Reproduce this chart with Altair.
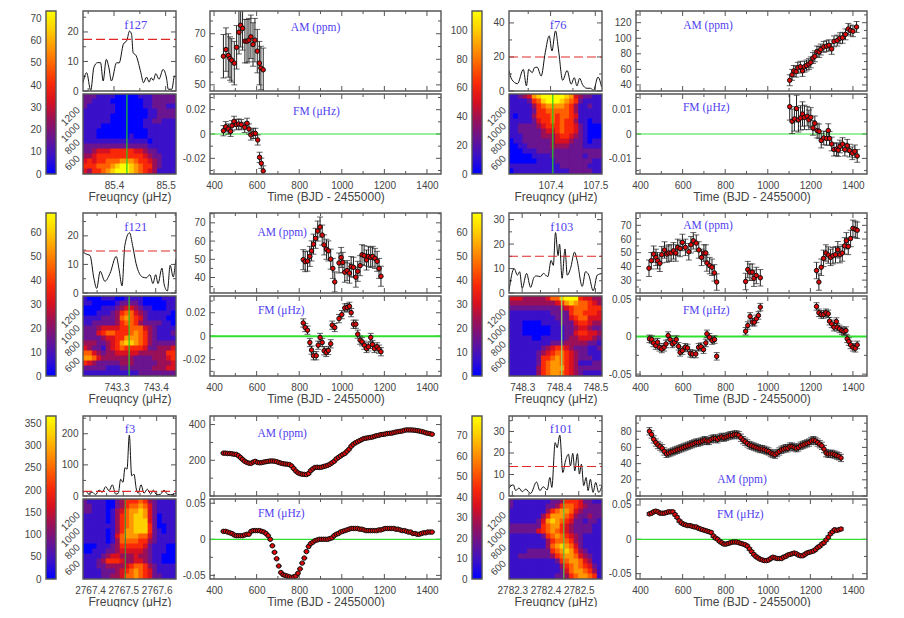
import altair as alt
import pandas as pd

# ---------------- time series ----------------
T10 = [444,454,464,474,484,494,504,514,524,534,544,554,564,574,584,594,604,614,624,634,
       644,654,664,674,684,694,704,714,724,734,744,754,764,774,784,794,804,814,824,834,
       844,854,864,874,884,894,904,914,924,934,944,954,964,974,984,994,1004,1014,1024,1034,
       1044,1054,1064,1074,1084,1094,1104,1114,1124,1134,1144,1154,1164,1174,1184,1194,1204,1214,1224,1234,
       1244,1254,1264,1274,1284,1294,1304,1314,1324,1334,1344,1354,1364,1374,1384,1394,1404,1414,1424]

f127_am_t = [444,456,467,475,483,495,506,517,525,534,545,555,564,573,583,592,603,613,620,631]
f127_am_v = [61.2,63.8,61.5,60.3,59.6,58.5,64.7,70.6,73.3,72.1,67.1,67.1,67.5,68.8,65.8,67.5,63.2,58.5,56.6,55.9]
f127_fm_t = [444,455,467,478,484,494,505,516,528,544,555,564,573,584,594,605,614,622,631]
f127_fm_v = [.0027,.006,.0041,.0022,.0068,.0104,.0077,.0082,.0077,.0055,.0088,.0041,-.0008,.0005,.0005,-.0049,-.0192,-.0241,-.0304]

f76_am_t = [1103,1114,1122,1133,1141,1153,1163,1172,1182,1193,1202,1212,1221,1231,1241,1249,1263,1276,1287,1300,1311,1326,1339,1351,1365,1378,1389,1400,1417]
f76_am_v = [46,53,58,57,62,63.4,58,63.4,65,66.8,69,74.6,76.8,83,82.4,85.5,88.9,89.8,91,86.3,96,97,100,100.6,105,112,110,109,114.5]
f76_fm_t = [1103,1114,1125,1135,1144,1154,1163,1172,1185,1193,1202,1212,1221,1232,1241,1251,1263,1276,1284,1290,1300,1311,1323,1331,1339,1351,1362,1373,1384,1397,1409,1420]
f76_fm_v = [.0112,.0052,.0062,.0104,.0058,.0066,.0082,.0068,.0073,.0058,.0068,.0025,.0044,.0014,.0011,-.0027,-.0016,-.0018,.0014,-.0018,-.0041,-.0064,-.0062,-.0066,-.0051,-.0041,-.0064,-.0048,-.0068,-.0079,-.0071,-.009]
f76_fm_e = [.0055,.005,.005,.0055,.005,.005,.005,.005,.004,.004,.004,.003,.003,.003,.003,.003,.0028,.0028,.0028,.0028,.0028,.0026,.0026,.0026,.0026,.0026,.0026,.0026,.0026,.0026,.0026,.0026]

f121_am_t = [819,828,839,850,858,867,877,887,898,908,917,928,937,948,958,967,987,997,1005,1014,1025,1036,1044,1055,1066,1075,1086,1095,1105,1116,1125,1136,1145,1156,1166,1175,1184]
f121_am_v = [49.8,48.7,49,51.6,54.6,58.3,61.5,65.5,67.7,63.3,57.9,55.5,54.6,50.1,45,37.6,48,51,48.3,42.9,43.8,42.4,46,45.6,40.2,43.4,46.5,52.5,52,49.6,51.6,51,51.6,50.5,48.9,45,40.7]
f121_fm_t = [819,828,839,850,858,867,880,889,898,908,917,927,937,948,955,967,987,1000,1014,1025,1036,1044,1055,1066,1075,1086,1095,1106,1116,1125,1136,1144,1153,1166,1175,1184]
f121_fm_v = [.0113,.0074,.0051,-.0054,-.0119,-.0167,-.0167,-.0077,-.0011,-.0054,-.0125,-.0139,-.0122,-.0065,.0094,.0074,.015,.0184,.0241,.0244,.0255,.0201,.0102,.0102,.0017,-.0034,-.0048,-.0077,-.0105,-.0091,-.0011,-.0071,-.0105,-.0091,-.0111,-.0133]

f103_am_t = [442,453,464,475,482,493,502,515,526,535,546,557,568,577,588,599,613,629,639,650,664,676,689,700,709,714,727,738,749,760,
             896,906,916,927,935,946,965,
             1229,1240,1251,1262,1273,1284,1295,1306,1318,1329,1339,1350,1361,1369,1378,1389,1400,1411,1420]
f103_am_v = [38.7,44.2,49,46.6,44.2,42.3,48.6,52,49,49.8,49.8,51.4,49.8,53.9,53.1,57.5,53.9,50.7,55.8,58.7,57,52,46.6,49.8,49.8,42.5,40.6,39.4,35.3,28.6,
             29,37.7,35.8,35.8,31.4,33.4,31.7,
             37,28.6,39.4,45.9,49.8,48.3,46.6,47.8,48.6,52.2,48.6,49.8,55,58.7,54.6,60.4,67.8,67.1,66.4]
f103_fm_t = [444,455,463,474,482,491,502,513,522,532,541,552,562,570,581,588,599,612,623,636,646,662,675,686,698,709,714,726,739,750,760,
             896,906,917,928,937,946,956,965,
             1229,1240,1251,1262,1273,1284,1290,1300,1311,1322,1326,1337,1348,1358,1367,1373,1381,1389,1400,1411,1420]
f103_fm_v = [-.003,-.004,-.0085,-.012,-.0076,-.0143,-.0165,-.0143,-.0098,.0013,-.004,-.0098,-.0076,-.004,-.013,-.021,-.0187,-.0143,-.0152,-.0223,-.0232,-.0232,-.0143,-.0134,-.0174,-.0085,.0036,-.0009,-.0053,-.004,-.0263,
             .0071,.0147,.0268,.0192,.0192,.0236,.0281,.0392,
             .0401,.0317,.0294,.0294,.0317,.0303,.0205,.0169,.0125,.02,.0125,.0102,.008,.0067,.008,-.003,-.0067,-.0111,-.0143,-.0156,-.0111]

f3_am_v = [240,240,238,238,236,234,233,226,216,205,195,188,184,183,190,194,188,186,187,190,
           192,194,196,196,195,192,188,184,181,179,178,176,168,154,140,130,125,122,121,120,
           126,142,152,160,161,160,161,165,168,172,178,186,194,207,216,224,232,238,250,262,
           278,290,298,304,310,316,322,324,326,328,330,334,338,340,344,345,347,350,351,352,
           355,358,360,362,364,368,370,370,370,369,368,366,364,361,358,354,351,349,346]
f3_fm_v = [.011,.011,.010,.009,.008,.006,.005,.005,.005,.005,.006,.007,.007,.011,.012,.012,.012,.012,.011,.010,
           .008,.005,.000,-.009,-.018,-.027,-.037,-.046,-.049,-.050,-.051,-.052,-.053,-.052,-.051,-.047,-.041,-.033,-.026,-.017,
           -.010,-.006,-.004,-.002,-.001,0,0,0,0,.000,.001,.002,.005,.007,.008,.010,.011,.012,.013,.014,
           .015,.015,.015,.015,.014,.014,.013,.012,.012,.012,.012,.012,.012,.013,.013,.014,.015,.015,.015,.015,
           .015,.014,.014,.013,.012,.012,.011,.010,.010,.008,.008,.007,.007,.008,.009,.009,.010,.010,.010]

f101_am_v = [80,76,70,66,63,61,59,55,52,53,54,55,56,57,58,59,60,61,62,63,64,65,66,66,67,68,69,68,68,70,71,71,70,72,73,72,73,74,75,75,76,76,75,72,69,67,65,63,62,61,60,59,58,58,57,56,55,53,52,51,53,55,57,58,59,59,61,61,60,59,60,62,63,64,65,66,68,69,68,66,64,62,58,53,52,52,52,51,50,49,47]
f101_fm_v = [.037,.038,.040,.041,.040,.038,.038,.038,.039,.040,.040,.040,.036,.032,.027,.024,.022,.021,.020,.020,.019,.018,.018,.016,.015,.014,.013,.012,.011,.010,.005,.002,.000,-.003,-.005,-.007,-.007,-.006,-.005,-.004,-.004,-.004,-.005,-.006,-.007,-.008,-.010,-.014,-.018,-.022,-.025,-.027,-.029,-.030,-.031,-.031,-.030,-.028,-.026,-.027,-.028,-.028,-.028,-.026,-.025,-.023,-.022,-.021,-.020,-.021,-.023,-.024,-.024,-.022,-.020,-.019,-.018,-.017,-.015,-.012,-.010,-.007,-.005,-.001,.003,.008,.011,.014,.013,.014,.015]

# ---------------- periodograms ----------------
f127_pg_f = [85.340,85.347,85.355,85.361,85.368,85.374,85.379,85.385,85.390,85.395,85.405,85.410,85.418,85.425,85.430,85.434,85.437,85.443,85.452,85.457,85.463,85.468,85.472,85.476,85.481,85.487,85.495,85.502,85.505,85.512,85.517,85.520]
f127_pg_p = [2.8,6.2,.2,8,9.6,9.6,3.4,10.7,8,3.4,9.6,9.5,15.8,17.2,20.3,19.2,13,11.9,6.2,2.8,4.7,3,4.5,3.6,5.9,4,7.3,4,.6,.6,5,4.7]
f76_pg_f = [107.307,107.313,107.326,107.339,107.346,107.351,107.359,107.364,107.370,107.379,107.388,107.397,107.403,107.411,107.418,107.427,107.437,107.446,107.453,107.459,107.465,107.471,107.481,107.489,107.496,107.506,107.514]
f76_pg_p = [12,6.9,4.3,12.7,3,12.7,10.8,13.7,14,8.8,22.5,32.4,23.5,35.3,23.5,6.3,12,4,7.8,3,7.5,4,1.6,1.6,.4,8.2,2.4]
f121_pg_f = [743.214,743.221,743.232,743.242,743.249,743.258,743.270,743.283,743.299,743.306,743.314,743.321,743.333,743.341,743.350,743.366,743.376,743.385,743.393,743.400,743.406,743.416,743.422,743.430,743.437,743.445,743.450,743.452]
f121_pg_p = [14.3,13.7,13.1,5,1.6,7.6,4.1,6.8,12.8,8.5,2.5,16.6,21.1,16.6,10.2,5.6,5.3,6.4,3.3,6.4,3.3,8.7,2.8,.7,9.7,5.6,9.9,12]
f103_pg_f = [748.264,748.278,748.287,748.293,748.300,748.312,748.323,748.332,748.339,748.350,748.358,748.370,748.379,748.385,748.391,748.398,748.402,748.409,748.417,748.423,748.432,748.443,748.450,748.464,748.473,748.482,748.494,748.505,748.519]
f103_pg_p = [.9,10,7.3,8.7,2,8,2.3,6.3,7,6.7,8,6.7,13.3,11.3,24.7,15.3,20,6,18,7.3,10,16.7,13.3,2.7,8.7,7.3,.9,7.3,8]
f3_pg_f = [2767.379,2767.388,2767.396,2767.407,2767.417,2767.427,2767.437,2767.447,2767.457,2767.467,2767.477,2767.485,2767.492,2767.499,2767.505,2767.511,2767.518,2767.525,2767.532,2767.539,2767.545,2767.553,2767.562,2767.572,2767.582,2767.590,2767.600,2767.612,2767.622,2767.632,2767.642,2767.658]
f3_pg_p = [12,15,6,12,4,19,12,30,17,36,6,9,54,44,91,86,196,65,70,22,9,36,9,22,6,19,4,6,19,6,4,9]
f101_pg_f = [2782.290,2782.303,2782.310,2782.320,2782.330,2782.340,2782.355,2782.373,2782.383,2782.393,2782.405,2782.413,2782.419,2782.429,2782.435,2782.443,2782.452,2782.460,2782.469,2782.475,2782.482,2782.488,2782.496,2782.502,2782.508,2782.515,2782.522,2782.528,2782.535,2782.543,2782.551,2782.560,2782.570]
f101_pg_p = [3.7,5.2,2.5,3.7,2,3.2,1.2,6.5,2.5,4.3,2.8,8.6,4,24.8,22.5,28.3,10.9,16.3,19.4,14,19.8,11.7,19.7,10.2,14.8,4.8,8.6,2.5,7.8,1.7,6.3,1.7,4.8]

# ---------------- heat maps: top row first, levels 0 (blue) to 9 (yellow) ----------------
f127_map = ["22211110000011122222","22111100000001122222","21111110000001122211","11111110000000112222",
            "11111100000000112222","11111100000001122111","11110000000001111111","11100000000000111111",
            "11100000001000111111","11111111111111011111","22222222222222111111","22344455555443221111",
            "33455555555554322111","45455666777655432111","55566678998765532111","43556789998765431111"]
f76_map = ["11234789999987432211","11112568999876521111","11111356777765311211","11111255666665311111",
           "10111355565665411111","11111245565655311011","11222234555655421000","11222223445655421000",
           "11122223334554321000","01122222234443221011","00112222233332221111","00011122222222222222",
           "00000111122222221222","00000011112222222211","11111111111222222111","01111111111112222211"]
f121_map = ["10001110011110000111","11000001222210000011","00001112344321100011","00011123566432111110",
            "11112223676542111100","11222223566532222110","22234444556664321111","22245665556765321112",
            "22223445577765321111","33322345788765322222","43221345655554223334","66432334444433333355",
            "77643333333222233345","54322222333222223334","22222111222222233344","11111111111122222222"]
f103_map = ["44433333466899954433","33333333334578766543","22222222222345666555","11111111122225665554",
            "11111111112224566444","11100001111222455433","11100000011122344322","11100000011122455443",
            "11111001111123344432","11111111122233333221","11111112345543222112","11111123456654322111",
            "11111125567654322211","11111125677654311122","11111135677754322222","11111135677654321111"]
f3_map = ["21111002355565321111","22111002356676421111","22111013467787421111","11111013567887420111",
          "11111013567888420111","11111113567888520011","11111013577888521011","11111014677766421111",
          "11111013666655321111","00011123555554211100","00111223444443211100","11112344333433211000",
          "11123555433443211000","11122333345665321111","11112223456765421111","11112233466765422111"]
f101_map = ["21111111122355542211","21111111223566543222","11111111356776432222","11111113577765322322",
            "11111124787654221221","22222225677543222211","22222245676543222211","11111112567654321111",
            "11111111356665321111","11111111367876421111","11112222256787532111","11222222235677643211",
            "11111111112567764311","11111111111356765421","11111111111246776531","11111111112235677651"]

PANELS = [
 dict(name="f127", cmax=73.4, cticks=[0,10,20,30,40,50,60,70], fdom=[85.34,85.52], fticks=[85.4,85.5], green=85.425, gc="#22cc22",
      pdom=[0,27.1], pticks=[0,10,20], thr=17.5, pf=f127_pg_f, pp=f127_pg_p, ml=(85.442,22.4), hm=f127_map,
      adom=[47.6,78.9], aticks=[50,60,70], at=f127_am_t, av=f127_am_v, ae=8.5, al=(877,72.4),
      fmdom=[-.0329,.0329], fmticks=[-.02,0,.02], ft=f127_fm_t, fv=f127_fm_v, fe=.0042, fl=(881,.0178), gw=1.0),
 dict(name="f76", cmax=113.4, cticks=[0,20,40,60,80,100], fdom=[107.307,107.515], fticks=[107.4,107.5], green=107.405, gc="#22cc22",
      pdom=[0,47], pticks=[0,20,40], thr=20, pf=f76_pg_f, pp=f76_pg_p, ml=(107.417,38.8), hm=f76_map,
      adom=[32.2,135], aticks=[40,60,80,100,120], at=f76_am_t, av=f76_am_v, ae=7, al=(719,115.8),
      fmdom=[-.0164,.0164], fmticks=[-.01,0,.01], ft=f76_fm_t, fv=f76_fm_v, fe=f76_fm_e, fl=(711,.0105), gw=1.0),
 dict(name="f121", cmax=68, cticks=[0,10,20,30,40,50,60], fdom=[743.214,743.452], fticks=[743.3,743.4], green=743.332, gc="#22cc22",
      pdom=[0,28], pticks=[0,10,20], thr=14.7, pf=f121_pg_f, pp=f121_pg_p, ml=(743.349,23.2), hm=f121_map,
      adom=[31.5,75.4], aticks=[40,50,60,70], at=f121_am_t, av=f121_am_v, ae=5.5, al=(720,64.6),
      fmdom=[-.034,.0343], fmticks=[-.02,0,.02], ft=f121_fm_t, fv=f121_fm_v, fe=.0035, fl=(716,.0218), gw=2.0),
 dict(name="f103", cmax=68, cticks=[0,10,20,30,40,50,60], fdom=[748.264,748.518], fticks=[748.3,748.4,748.5], green=748.408, gc="#90e070",
      pdom=[0,32.7], pticks=[0,10,20,30], thr=15, pf=f103_pg_f, pp=f103_pg_p, ml=(748.408,26.9), hm=f103_map,
      adom=[20.6,79], aticks=[30,40,50,60,70], at=f103_am_t, av=f103_am_v, ae=6, al=(719,69.5),
      fmdom=[-.0525,.054], fmticks=[-.05,0,.05], ft=f103_fm_t, fv=f103_fm_v, fe=.005, fl=(711,.0339), gw=2.0),
 dict(name="f3", cmax=367, cticks=[0,50,100,150,200,250,300,350], fdom=[2767.379,2767.658], fticks=[2767.4,2767.5,2767.6], green=2767.506, gc="#4a8a3a",
      pdom=[0,257], pticks=[0,100,200], thr=15, pf=f3_pg_f, pp=f3_pg_p, ml=(2767.52,214), hm=f3_map,
      adom=[0,448], aticks=[0,200,400], at=T10, av=f3_am_v, ae=4, al=(720,348),
      fmdom=[-.055,.0558], fmticks=[-.05,0,.05], ft=T10, fv=f3_fm_v, fe=.0006, fl=(716,.035), gw=1.2),
 dict(name="f101", cmax=79.7, cticks=[0,10,20,30,40,50,60,70], fdom=[2782.29,2782.57], fticks=[2782.3,2782.4,2782.5], green=2782.455, gc="#60c040",
      pdom=[0,37.2], pticks=[0,10,20,30], thr=13.7, pf=f101_pg_f, pp=f101_pg_p, ml=(2782.447,31), hm=f101_map,
      adom=[0,98.8], aticks=[0,20,40,60,80], at=T10[:91], av=f101_am_v, ae=4.5, al=(879,20),
      fmdom=[-.0578,.0587], fmticks=[-.05,0,.05], ft=T10[:91], fv=f101_fm_v, fe=.0018, fl=(871,.0347), gw=1.2),
]

TIME_DOM = [381,1466]
TIME_TICKS = [400,600,800,1000,1200,1400]
TMAP_DOM = [385,1375]
TMAP_TICKS = [600,800,1000,1200]
COLOR_RANGE = ["#0000ff","#3a10c8","#6a1490","#9a1058","#d81020","#f82808","#ff6000","#ff9800","#ffd000","#ffff00"]

# ---------------- style / layout ----------------
FRAME = "#555555"
TXT = "#444444"
BLUE = "#5040f0"
PW, TW, BW, H = 93, 231, 10, 80
BAR_H = 163
COLS = [37.5, BW, 27, PW, 34, TW, 31, BW, 27, PW, 34, TW]
ROWS = [80, 3, 80, 39, 80, 3, 80, 40, 80, 3, 80]
one = pd.DataFrame({"a": [0]})
HIDE = alt.Axis(labels=False, ticks=False, domain=False, grid=False, title=None)


def sp(w, h):
    return alt.Chart(one).mark_rule(opacity=0).encode(
        x=alt.value(0), x2=alt.value(w), y=alt.value(0), y2=alt.value(h)
    ).properties(width=w, height=h)


def frame(w, h):
    return alt.Chart(one).mark_rect(fillOpacity=0, stroke=FRAME, strokeWidth=1.4).encode(
        x=alt.value(0), x2=alt.value(w), y=alt.value(0), y2=alt.value(h))


def mids(t, dom):
    step = t[1] - t[0]
    c = [round(t[0] - step / 2 + i * step, 6) for i in range(len(t) + 1)]
    return [v for v in c if dom[0] < v < dom[1]]


def xaxis(vals, title):
    return alt.Axis(values=vals, title=title, labelExpr="'' + datum.value", grid=False, ticks=False, domain=False,
                    labelColor=TXT, labelFontSize=10, labelFont="Liberation Sans", labelPadding=6, labelFlush=False,
                    labelOverlap=False, labelAngle=0,
                    titleColor=TXT, titleFontSize=12, titleFontWeight="normal", titleFont="Liberation Sans", titlePadding=1)


def yaxis(vals, angle=None):
    kw = dict(labelAngle=angle, labelAlign="right", labelBaseline="middle", labelPadding=5) if angle else dict(labelPadding=5)
    return alt.Axis(values=vals, title=None, labelExpr="'' + datum.value", grid=False, ticks=False, domain=False,
                    labelColor=TXT, labelFontSize=10, labelFont="Liberation Sans", labelFlush=False, labelOverlap=False, **kw)


def ticks(w, h, xs, xt, ys, yt, xa, ya):
    xminor = mids(xt, xs.domain)
    yminor = mids(yt, ys.domain)
    layers = []
    for vals, ln in ((yt, 5), (yminor, 3)):
        d = pd.DataFrame({"v": vals})
        Y = alt.Y("v:Q", scale=ys, axis=ya)
        layers.append(alt.Chart(d).mark_rule(color=FRAME, strokeWidth=1).encode(y=Y, x=alt.value(0), x2=alt.value(ln)))
        layers.append(alt.Chart(d).mark_rule(color=FRAME, strokeWidth=1).encode(y=Y, x=alt.value(w - ln), x2=alt.value(w)))
    for vals, ln in ((xt, 5), (xminor, 3)):
        d = pd.DataFrame({"u": vals})
        X = alt.X("u:Q", scale=xs, axis=xa)
        layers.append(alt.Chart(d).mark_rule(color=FRAME, strokeWidth=1).encode(x=X, y=alt.value(h - ln), y2=alt.value(h)))
        layers.append(alt.Chart(d).mark_rule(color=FRAME, strokeWidth=1).encode(x=X, y=alt.value(0), y2=alt.value(ln)))
    return layers


def label(txt, pos, xs, ys, xa, ya, size=11.5):
    d = pd.DataFrame({"lx": [pos[0]], "ly": [pos[1]], "s": [txt]})
    return alt.Chart(d).mark_text(font="Liberation Serif", fontSize=size, color=BLUE).encode(
        x=alt.X("lx:Q", scale=xs, axis=xa), y=alt.Y("ly:Q", scale=ys, axis=ya), text="s:N")


def bar(p):
    ys = alt.Scale(domain=[0, p["cmax"]], range=[BAR_H, 0], nice=False, zero=False)
    ya = yaxis(p["cticks"])
    grad = alt.Gradient(gradient="linear", x1=0, x2=0, y1=1, y2=0,
                        stops=[alt.GradientStop(offset=i / (len(COLOR_RANGE) - 1), color=c) for i, c in enumerate(COLOR_RANGE)])
    d = pd.DataFrame({"lo": [0], "hi": [p["cmax"]]})
    r = alt.Chart(d).mark_rect(fill=grad).encode(
        x=alt.value(0), x2=alt.value(BW), y=alt.Y("lo:Q", scale=ys, axis=ya), y2="hi:Q")
    f = alt.Chart(d).mark_rect(fillOpacity=0, stroke=FRAME, strokeWidth=1.4).encode(
        x=alt.value(0), x2=alt.value(BW), y=alt.Y("lo:Q", scale=ys, axis=ya), y2="hi:Q")
    return alt.layer(r, f).properties(width=BW, height=H)


def periodogram(p):
    xs = alt.Scale(domain=p["fdom"], nice=False, zero=False)
    ys = alt.Scale(domain=p["pdom"], nice=False, zero=False)
    xa, ya = HIDE, yaxis(p["pticks"])
    d = pd.DataFrame({"f": p["pf"], "p": p["pp"]})
    line = alt.Chart(d).mark_line(color="#111111", strokeWidth=1, clip=True, interpolate="monotone").encode(
        x=alt.X("f:Q", scale=xs, axis=xa), y=alt.Y("p:Q", scale=ys, axis=ya))
    th = alt.Chart(pd.DataFrame({"thr": [p["thr"]]})).mark_rule(color="#e02828", strokeWidth=1.1, strokeDash=[9, 4]).encode(
        y=alt.Y("thr:Q", scale=ys, axis=ya), x=alt.value(0), x2=alt.value(PW))
    return alt.layer(*ticks(PW, H, xs, p["fticks"], ys, p["pticks"], xa, ya), line, th,
                     label(p["name"], p["ml"], xs, ys, xa, ya, 12.5), frame(PW, H)).properties(width=PW, height=H)


def heat(p):
    xs = alt.Scale(domain=p["fdom"], nice=False, zero=False)
    ys = alt.Scale(domain=TMAP_DOM, nice=False, zero=False)
    cs = alt.Scale(domain=list(range(10)), range=COLOR_RANGE)
    xa = xaxis(p["fticks"], "Freuqncy (μHz)")
    rows, cols = len(p["hm"]), len(p["hm"][0])
    dx = (p["fdom"][1] - p["fdom"][0]) / cols
    dy = (TMAP_DOM[1] - TMAP_DOM[0]) / rows
    rec = []
    for r, s in enumerate(p["hm"]):
        for c, ch in enumerate(s):
            rec.append({"x0": p["fdom"][0] + c * dx, "x1": p["fdom"][0] + (c + 1) * dx,
                        "y1": TMAP_DOM[1] - r * dy, "y0": TMAP_DOM[1] - (r + 1) * dy, "z": int(ch)})
    cells = alt.Chart(pd.DataFrame(rec)).mark_rect(strokeWidth=1, clip=True).encode(
        x=alt.X("x0:Q", scale=xs, axis=xa), x2="x1:Q",
        y=alt.Y("y0:Q", scale=ys, axis=yaxis(TMAP_TICKS, 315)), y2="y1:Q",
        fill=alt.Fill("z:Q", scale=cs, legend=None), stroke=alt.Stroke("z:Q", scale=cs, legend=None))
    g = alt.Chart(pd.DataFrame({"g": [p["green"]]})).mark_rule(color=p["gc"], strokeWidth=1.2).encode(
        x=alt.X("g:Q", scale=xs, axis=xa), y=alt.value(0), y2=alt.value(H))
    return alt.layer(cells, g, frame(PW, H)).properties(width=PW, height=H)


def series(t, v, e, lab, lab_pos, dom, yt, zero=None, bottom=False):
    xs = alt.Scale(domain=TIME_DOM, nice=False, zero=False)
    ys = alt.Scale(domain=dom, nice=False, zero=False)
    xa = xaxis(TIME_TICKS, "Time (BJD - 2455000)") if bottom else HIDE
    ya = yaxis(yt)
    err = list(e) if isinstance(e, list) else [e] * len(v)
    d = pd.DataFrame({"t": t, "v": v, "lo": [a - b for a, b in zip(v, err)], "hi": [a + b for a, b in zip(v, err)]})
    X = alt.X("t:Q", scale=xs, axis=xa)
    layers = ticks(TW, H, xs, TIME_TICKS, ys, yt, xa, ya)
    if zero:
        layers.append(alt.Chart(pd.DataFrame({"z": [0]})).mark_rule(color="#30e030", strokeWidth=zero).encode(
            y=alt.Y("z:Q", scale=ys, axis=ya), x=alt.value(0), x2=alt.value(TW)))
    layers += [
        alt.Chart(d).mark_rule(color="#222222", strokeWidth=1, clip=True).encode(x=X, y=alt.Y("lo:Q", scale=ys, axis=ya), y2="hi:Q"),
        alt.Chart(d).mark_tick(color="#222222", orient="horizontal", size=6, thickness=1, clip=True).encode(x=X, y=alt.Y("lo:Q", scale=ys, axis=ya)),
        alt.Chart(d).mark_tick(color="#222222", orient="horizontal", size=6, thickness=1, clip=True).encode(x=X, y=alt.Y("hi:Q", scale=ys, axis=ya)),
        alt.Chart(d).mark_point(filled=True, fill="#e00808", stroke="#111111", strokeWidth=1, size=20, opacity=1, clip=True).encode(x=X, y=alt.Y("v:Q", scale=ys, axis=ya)),
        label(lab, lab_pos, xs, ys, xa, ya),
        frame(TW, H),
    ]
    return alt.layer(*layers).properties(width=TW, height=H)


cells = []
for row in range(3):
    a, b = PANELS[row * 2], PANELS[row * 2 + 1]
    # upper line of panels
    cells += [sp(COLS[0], ROWS[row * 4]), bar(a), sp(COLS[2], H), periodogram(a), sp(COLS[4], H),
              series(a["at"], a["av"], a["ae"], "AM (ppm)", a["al"], a["adom"], a["aticks"]),
              sp(COLS[6], H), bar(b), sp(COLS[8], H), periodogram(b), sp(COLS[10], H),
              series(b["at"], b["av"], b["ae"], "AM (ppm)", b["al"], b["adom"], b["aticks"])]
    # thin gap
    cells += [sp(w, 3) for w in COLS]
    # lower line of panels
    cells += [sp(COLS[0], H), sp(BW, H), sp(COLS[2], H), heat(a), sp(COLS[4], H),
              series(a["ft"], a["fv"], a["fe"], "FM (μHz)", a["fl"], a["fmdom"], a["fmticks"], zero=a["gw"], bottom=True),
              sp(COLS[6], H), sp(BW, H), sp(COLS[8], H), heat(b), sp(COLS[10], H),
              series(b["ft"], b["fv"], b["fe"], "FM (μHz)", b["fl"], b["fmdom"], b["fmticks"], zero=b["gw"], bottom=True)]
    if row < 2:
        cells += [sp(w, ROWS[3 + row * 4]) for w in COLS]

chart = alt.concat(*cells, columns=12, spacing=0, bounds="flush", align="each").properties(
    padding={"left": 0, "top": 2, "right": 0, "bottom": 0}, background="white"
).configure_view(stroke=None)

chart.save("out.html", embed_options={"renderer": "svg", "actions": False})
